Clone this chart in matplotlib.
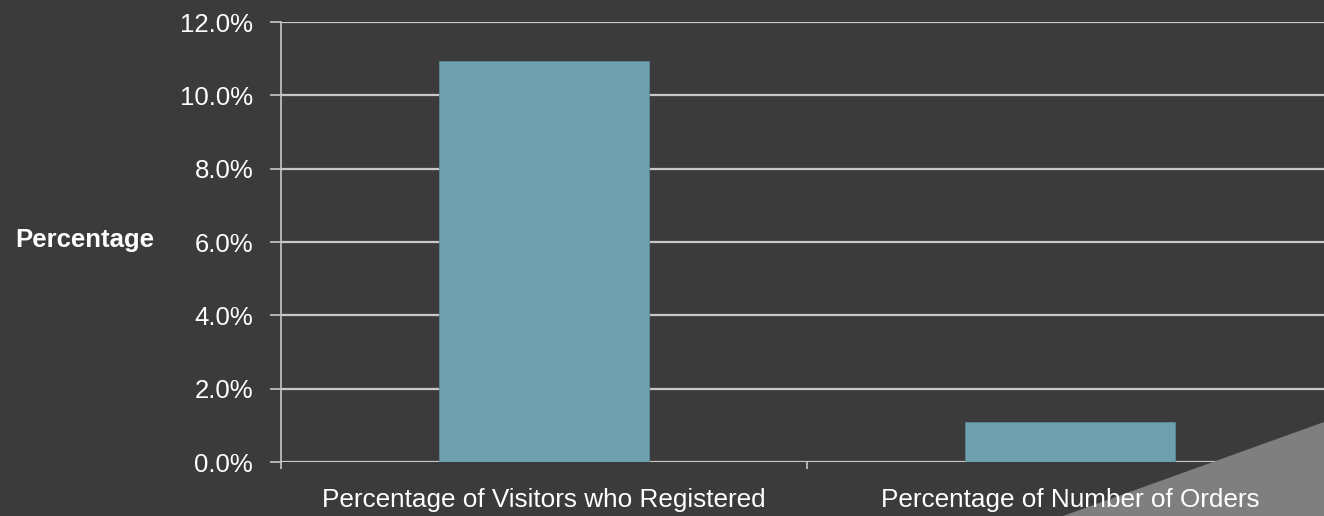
import matplotlib
matplotlib.use("Agg")
import matplotlib.pyplot as plt
from matplotlib.patches import Polygon
from matplotlib.ticker import PercentFormatter

categories = ["Percentage of Visitors who Registered", "Percentage of Number of Orders"]
values = [10.95, 1.10]
y_ticks = [0, 2, 4, 6, 8, 10, 12]

plt.rcParams['font.family'] = ['Liberation Sans', 'DejaVu Sans']

BG = "#3b3b3b"
GRID = "#c8c8c8"
BAR = "#6fa0b0"
TXT = "#ffffff"

W, H = 1324, 516
fig = plt.figure(figsize=(W / 100, H / 100), dpi=100, facecolor=BG)
ax = fig.add_axes([281 / W, (H - 462) / H, 1052 / W, 440 / H])
ax.set_facecolor(BG)

x = list(range(len(categories)))
ax.bar(x, values, width=0.4, color=BAR, edgecolor="#5d8797", linewidth=0.6, zorder=1)

ax.set_xlim(-0.5, len(categories) - 0.5)
ax.set_ylim(0, 12)
ax.set_yticks(y_ticks)
ax.yaxis.set_major_formatter(PercentFormatter(decimals=1))
ax.set_axisbelow(True)
ax.grid(axis="y", color=GRID, linewidth=1.6)
ax.grid(axis="x", visible=False)

for s in ["top", "right", "bottom"]:
    ax.spines[s].set_visible(False)
ax.spines["left"].set_color(GRID)
ax.spines["left"].set_linewidth(1.2)

ax.tick_params(axis="y", colors=GRID, labelcolor=TXT, labelsize=18.5, length=8, width=1.2, pad=12)
ax.set_xticks([i - 0.5 for i in range(len(categories) + 1)])
ax.tick_params(axis="x", colors=GRID, labelbottom=False, length=5, width=1.2)

for i, c in enumerate(categories):
    ax.text(i, -0.06, c, transform=ax.get_xaxis_transform(), ha="center", va="top",
            color=TXT, fontsize=18.8, zorder=5, clip_on=False)

ax.set_ylabel("Percentage", rotation=0, ha="right", va="center", color=TXT,
              fontsize=18.5, fontweight="bold")
ax.yaxis.set_label_coords((154 - 281) / 1052, 0.505)

tri = Polygon([[1063 / W, 0], [1.0, (H - 422) / H], [1.0, 0]], closed=True,
              transform=fig.transFigure, facecolor="#7f7f7f", edgecolor="none",
              zorder=3, clip_on=False)
ax.add_artist(tri)

fig.savefig("out.png", dpi=100, facecolor=BG)
